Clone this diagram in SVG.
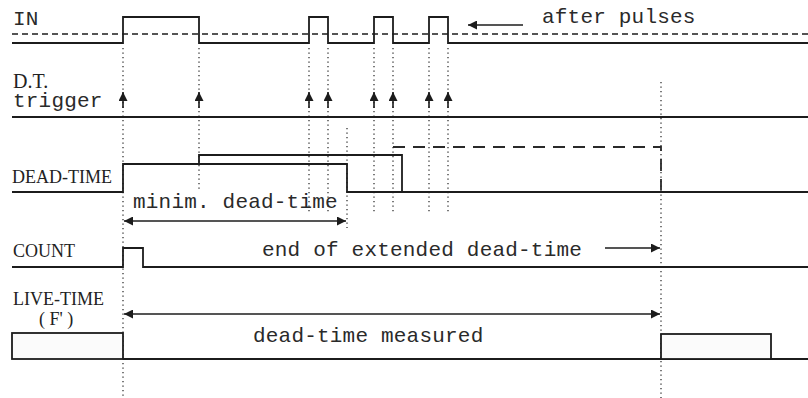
<svg xmlns="http://www.w3.org/2000/svg" width="808" height="398" viewBox="0 0 808 398">
<style>
.sig{fill:none;stroke:#1c1c1c;stroke-width:1.8}
.dash{fill:none;stroke:#1c1c1c;stroke-width:1.6;stroke-dasharray:6 4}
.dash2{fill:none;stroke:#2a2a2a;stroke-width:1.8;stroke-dasharray:12 8}
.dot{fill:none;stroke:#333;stroke-width:1.3;stroke-dasharray:1.3 3.2}
.arr{fill:none;stroke:#1c1c1c;stroke-width:1.6}
.mono{font-family:"Liberation Mono","DejaVu Sans Mono",monospace;font-size:21px;fill:#2a2a2a;letter-spacing:0.2px}
.serif{font-family:"Liberation Serif","Times New Roman",serif;font-size:18px;fill:#222}
</style>
<defs>
<marker id="ah" viewBox="0 0 10 10" refX="10" refY="5" markerWidth="13" markerHeight="9" markerUnits="userSpaceOnUse" orient="auto-start-reverse">
<path d="M0,0 L10,5 L0,10 z" fill="#1c1c1c"/>
</marker>
</defs>
<rect width="808" height="398" fill="#ffffff"/>

<g id="guides">
<line class="dot" x1="123" y1="48" x2="123" y2="398"/>
<line class="dot" x1="199" y1="48" x2="199" y2="192"/>
<line class="dot" x1="309" y1="48" x2="309" y2="212"/>
<line class="dot" x1="328" y1="48" x2="328" y2="212"/>
<line class="dot" x1="347" y1="128" x2="347" y2="228"/>
<line class="dot" x1="374" y1="48" x2="374" y2="212"/>
<line class="dot" x1="393" y1="48" x2="393" y2="212"/>
<line class="dot" x1="429" y1="48" x2="429" y2="212"/>
<line class="dot" x1="448" y1="48" x2="448" y2="212"/>
<line class="dot" x1="661" y1="82" x2="661" y2="398"/>
</g>

<g id="in">
<text class="mono" x="13" y="25">IN</text>
<line class="dash" x1="12" y1="34" x2="808" y2="34"/>
<path class="sig" d="M12,43 H123 V17 H199 V43 H309 V17 H328 V43 H374 V17 H393 V43 H429 V17 H448 V43 H808"/>
<text class="mono" x="542" y="23">after pulses</text>
</g>

<g id="dt-trigger">
<text class="serif" x="13" y="88" style="font-size:20px">D.T.</text>
<text class="mono" x="13" y="107">trigger</text>
<line class="sig" x1="12" y1="117" x2="808" y2="117"/>
</g>

<g id="dead-time">
<text class="serif" x="12" y="183">DEAD-TIME</text>
<path class="sig" d="M12,192 H123 V164 H347 V192 H808"/>
<path class="sig" d="M199,164 V155 H402 V192"/>
<path class="dash2" d="M393,147 H661 V190"/>
<text class="mono" x="133" y="208">minim. dead-time</text>
</g>

<g id="count">
<text class="serif" x="13" y="257">COUNT</text>
<path class="sig" d="M12,267 H123 V248 H143 V267 H808"/>
<text class="mono" x="262" y="256">end of extended dead-time</text>
</g>

<g id="live-time">
<text class="serif" x="13" y="305">LIVE-TIME</text>
<text class="serif" x="39" y="325">( F' )</text>
<rect x="12" y="333" width="111" height="26" fill="#fbfbfb" stroke="#1c1c1c" stroke-width="1.8"/>
<line class="sig" x1="123" y1="359" x2="808" y2="359"/>
<rect x="661" y="334" width="110" height="25" fill="#fbfbfb" stroke="#1c1c1c" stroke-width="1.8"/>
<text class="mono" x="253" y="342">dead-time measured</text>
</g>

<g id="connectors">
<line class="arr" x1="523" y1="25" x2="468" y2="25" marker-end="url(#ah)"/>
<line class="arr" x1="123" y1="108" x2="123" y2="92" marker-end="url(#ah)"/>
<line class="arr" x1="199" y1="108" x2="199" y2="92" marker-end="url(#ah)"/>
<line class="arr" x1="309" y1="108" x2="309" y2="92" marker-end="url(#ah)"/>
<line class="arr" x1="328" y1="108" x2="328" y2="92" marker-end="url(#ah)"/>
<line class="arr" x1="374" y1="108" x2="374" y2="92" marker-end="url(#ah)"/>
<line class="arr" x1="393" y1="108" x2="393" y2="92" marker-end="url(#ah)"/>
<line class="arr" x1="429" y1="108" x2="429" y2="92" marker-end="url(#ah)"/>
<line class="arr" x1="448" y1="108" x2="448" y2="92" marker-end="url(#ah)"/>
<line class="arr" x1="124" y1="221" x2="346" y2="221" marker-start="url(#ah)" marker-end="url(#ah)"/>
<line class="arr" x1="605" y1="248" x2="660" y2="248" marker-end="url(#ah)"/>
<line class="arr" x1="124" y1="314" x2="660" y2="314" marker-start="url(#ah)" marker-end="url(#ah)"/>
</g>
</svg>
